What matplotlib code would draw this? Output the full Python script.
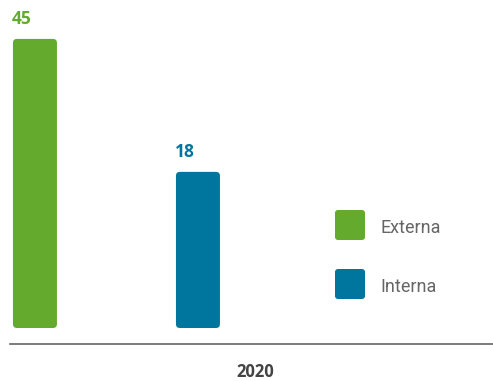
import numpy as np
import matplotlib
matplotlib.use("Agg")
import matplotlib.pyplot as plt
from matplotlib.patches import FancyBboxPatch

# data
categories = ["Externa", "Interna"]
values = [45, 18]
colors = ["#64aa2d", "#00769e"]
year_label = "2020"

W, H = 493, 381
fig = plt.figure(figsize=(W / 100, H / 100), dpi=100)

# main axes: bars float above the base line
ax = fig.add_axes([10 / W, (H - 344) / H, 483 / W, 344 / H])
base = -13.7
ax.set_xlim(-0.153, 2.81)
ax.set_ylim(-16.95, 52.9)

bars = ax.bar(range(len(values)), np.array(values) - base, bottom=base,
              width=0.27, color=colors)

# swap the plain rectangles for rounded ones
px_x = ax.transData.transform((1, 0))[0] - ax.transData.transform((0, 0))[0]
px_y = ax.transData.transform((0, 1))[1] - ax.transData.transform((0, 0))[1]
r_px = 4
for b, c in zip(bars, colors):
    b.set_visible(False)
    ax.add_patch(FancyBboxPatch((b.get_x(), b.get_y()), b.get_width(), b.get_height(),
                                boxstyle=f"round,pad=0,rounding_size={r_px / px_x}",
                                mutation_aspect=px_x / px_y,
                                facecolor=c, edgecolor="none"))

for i, (v, c) in enumerate(zip(values, colors)):
    ax.annotate(str(v), xy=(i - 0.135, v), xytext=(-1, 14.5), textcoords="offset points",
                ha="left", va="center", fontsize=12.5, fontweight="bold",
                color=c, family="Open Sans")

for s in ["top", "right", "left"]:
    ax.spines[s].set_visible(False)
ax.spines["bottom"].set_color("#666666")
ax.spines["bottom"].set_linewidth(1.2)
ax.set_xticks([])
ax.set_yticks([])

# overlay in pixel coordinates for legend and year label
ov = fig.add_axes([0, 0, 1, 1])
ov.set_xlim(0, W)
ov.set_ylim(H, 0)
ov.axis("off")

for k, (name, c) in enumerate(zip(categories, colors)):
    y0 = 210 + k * 59
    ov.add_patch(FancyBboxPatch((335, y0), 30, 30,
                                boxstyle="round,pad=0,rounding_size=3",
                                facecolor=c, edgecolor="none"))
    ov.text(380, y0 + 18, name, ha="left", va="center", fontsize=13,
            color="#666666", family="Roboto")

ov.text(255, 372, year_label, ha="center", va="center", fontsize=12,
        fontweight="bold", color="#444444", family="Open Sans")

fig.savefig("out.png", dpi=100)
